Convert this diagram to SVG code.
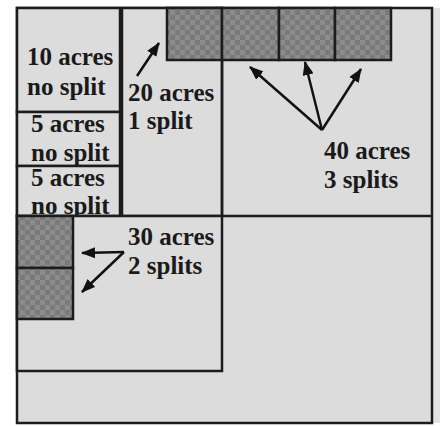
<svg xmlns="http://www.w3.org/2000/svg" width="445" height="426" viewBox="0 0 445 426">
<style>
.plot{fill:#dcdcdc;stroke:#1c1c1c;stroke-width:2.5}
.lot{fill:url(#chk);stroke:#1c1c1c;stroke-width:2.5}
.ln{stroke:#1c1c1c;stroke-width:2.5;fill:none}
.lbl{font-family:"Liberation Serif","Times New Roman",serif;font-weight:bold;font-size:25px;fill:#1a1a1a}
.arr{stroke:#111;stroke-width:2.5;fill:none;marker-end:url(#ah)}
</style>
<defs>
<pattern id="chk" width="10" height="10" patternUnits="userSpaceOnUse">
<rect width="10" height="10" fill="#7a7a7a"/>
<rect width="5" height="5" fill="#8c8c8c"/>
<rect x="5" y="5" width="5" height="5" fill="#8c8c8c"/>
</pattern>
<marker id="ah" markerWidth="14" markerHeight="11" refX="13" refY="5.5" orient="auto" markerUnits="userSpaceOnUse">
<path d="M0,0 L14,5.5 L0,11 z" fill="#111"/>
</marker>
</defs>
<rect width="445" height="426" fill="#ffffff"/>
<rect x="432" y="8" width="8" height="415" fill="#e2e2e2"/>
<g id="plot-40">
<rect class="plot" x="17" y="8" width="415" height="415"/>
<line class="ln" x1="17" y1="216" x2="432" y2="216"/>
<text class="lbl" x="324" y="159">40 acres</text>
<text class="lbl" x="324" y="188">3 splits</text>
</g>
<g id="plot-20">
<rect class="plot" x="122" y="8" width="100" height="208"/>
<text class="lbl" x="128" y="101">20 acres</text>
<text class="lbl" x="128" y="129">1 split</text>
</g>
<g id="plot-10">
<rect class="plot" x="17" y="8" width="103" height="104"/>
<text class="lbl" x="27" y="65">10 acres</text>
<text class="lbl" x="27" y="95">no split</text>
</g>
<g id="plot-5a">
<rect class="plot" x="17" y="112" width="103" height="54"/>
<text class="lbl" x="31" y="132">5 acres</text>
<text class="lbl" x="31" y="161">no split</text>
</g>
<g id="plot-5b">
<rect class="plot" x="17" y="166" width="103" height="50"/>
<text class="lbl" x="31" y="186">5 acres</text>
<text class="lbl" x="31" y="214">no split</text>
</g>
<g id="plot-30">
<rect class="plot" x="17" y="216" width="205" height="155"/>
<line class="ln" x1="222" y1="8" x2="222" y2="216"/>
<text class="lbl" x="128" y="245">30 acres</text>
<text class="lbl" x="128" y="274">2 splits</text>
</g>
<g id="lots">
<rect class="lot" x="167" y="8" width="55" height="52"/>
<rect class="lot" x="222" y="8" width="57" height="52"/>
<rect class="lot" x="279" y="8" width="56" height="52"/>
<rect class="lot" x="335" y="8" width="56" height="52"/>
<rect class="lot" x="17" y="216" width="56" height="52"/>
<rect class="lot" x="17" y="268" width="56" height="51"/>
</g>
<g id="connectors">
<line class="arr" x1="137" y1="76" x2="159" y2="43"/>
<line class="arr" x1="322" y1="130" x2="250" y2="67"/>
<line class="arr" x1="322" y1="130" x2="305" y2="62"/>
<line class="arr" x1="322" y1="130" x2="361" y2="69"/>
<line class="arr" x1="124" y1="252" x2="82" y2="253"/>
<line class="arr" x1="124" y1="252" x2="82" y2="292"/>
</g>
</svg>
